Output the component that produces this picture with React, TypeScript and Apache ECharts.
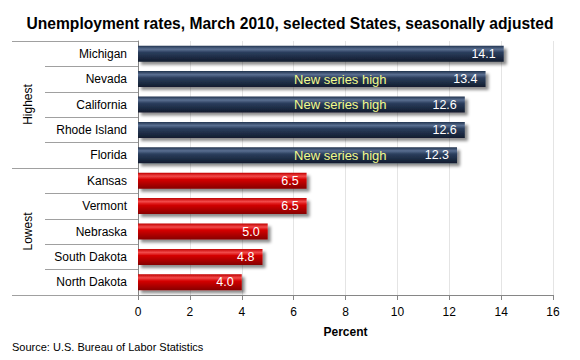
import React, { useEffect, useRef } from "react";
import * as echarts from "echarts";

const titleText = "Unemployment rates, March 2010, selected States, seasonally adjusted";
const sourceText = "Source: U.S. Bureau of Labor Statistics";
const groups = ["Highest", "Lowest"];
const highestStates = ["Michigan", "Nevada", "California", "Rhode Island", "Florida"];
const highestValues = [14.1, 13.4, 12.6, 12.6, 12.3];
const highestNotes = ["", "New series high", "New series high", "", "New series high"];
const lowestStates = ["Kansas", "Vermont", "Nebraska", "South Dakota", "North Dakota"];
const lowestValues = [6.5, 6.5, 5.0, 4.8, 4.0];
const notePosition = 7.8;
const xTicks = [0, 2, 4, 6, 8, 10, 12, 14, 16];

const FONT = "'Liberation Sans', Arial, sans-serif";

const navyGradient = new echarts.graphic.LinearGradient(0, 0, 0, 1, [
  { offset: 0, color: "#22344f" },
  { offset: 0.22, color: "#5a6f91" },
  { offset: 0.42, color: "#2b3e5d" },
  { offset: 1, color: "#111c2e" },
]);
const redGradient = new echarts.graphic.LinearGradient(0, 0, 0, 1, [
  { offset: 0, color: "#c00000" },
  { offset: 0.22, color: "#f24a4a" },
  { offset: 0.42, color: "#d40000" },
  { offset: 1, color: "#860000" },
]);

export default function App() {
  const ref = useRef<HTMLDivElement>(null);
  useEffect(() => {
    if (!ref.current) return;
    const chart = echarts.init(ref.current, null, { renderer: "svg" });
    const states = [...highestStates, ...lowestStates];
    const barData = [
      ...highestValues.map((v) => ({ value: v, itemStyle: { color: navyGradient } })),
      ...lowestValues.map((v) => ({ value: v, itemStyle: { color: redGradient } })),
    ];
    const noteData = highestStates
      .map((s, i) => ({ s, n: highestNotes[i] }))
      .filter((d) => d.n)
      .map((d) => ({ value: [notePosition, d.s], note: d.n }));

    chart.setOption({
      animation: false,
      textStyle: { fontFamily: FONT },
      title: {
        text: titleText,
        left: "center",
        top: 10,
        textStyle: { fontSize: 15.6, fontWeight: "bold", color: "#000", fontFamily: FONT },
      },
      graphic: [
        {
          type: "text",
          left: 12,
          top: 341,
          style: { text: sourceText, fontSize: 11, fill: "#000", fontFamily: FONT },
        },
      ],
      grid: { left: 138, right: 27, top: 41, bottom: 65 },
      xAxis: {
        type: "value",
        min: xTicks[0],
        max: xTicks[xTicks.length - 1],
        interval: 2,
        name: "Percent",
        nameLocation: "middle",
        nameGap: 31,
        nameTextStyle: { fontSize: 12, fontWeight: "bold", color: "#000", fontFamily: FONT },
        axisLine: { show: true, lineStyle: { color: "#868686" } },
        axisTick: { show: true, length: 5, lineStyle: { color: "#868686" } },
        axisLabel: { fontSize: 12, color: "#000", margin: 11, fontFamily: FONT },
        splitLine: { show: true, lineStyle: { color: "#e4e4e4" } },
      },
      yAxis: [
        {
          type: "category",
          data: states,
          inverse: true,
          axisLine: { show: true, lineStyle: { color: "#868686" } },
          axisTick: { show: true, length: 93, lineStyle: { color: "#a0a0a0" } },
          axisLabel: { fontSize: 12, color: "#000", margin: 11, fontFamily: FONT },
        },
        {
          type: "category",
          data: groups,
          inverse: true,
          position: "left",
          axisLine: { show: false },
          axisTick: { show: true, length: 126, lineStyle: { color: "#a0a0a0" } },
          axisLabel: { fontSize: 12, color: "#000", rotate: 90, margin: 104, fontFamily: FONT },
          splitLine: { show: false },
        },
      ],
      series: [
        {
          type: "bar",
          yAxisIndex: 0,
          data: barData,
          barWidth: 16,
          itemStyle: {
            shadowBlur: 3,
            shadowOffsetX: 3,
            shadowOffsetY: 3,
            shadowColor: "rgba(0,0,0,0.45)",
          },
          label: {
            show: true,
            position: "insideRight",
            distance: 8,
            color: "#fff",
            fontSize: 12.5,
            fontFamily: FONT,
            formatter: (p: any) => Number(p.value).toFixed(1),
          },
        },
        {
          type: "scatter",
          yAxisIndex: 0,
          data: noteData,
          symbolSize: 1,
          itemStyle: { color: "rgba(0,0,0,0)", opacity: 1 },
          z: 5,
          label: {
            show: true,
            position: "inside",
            color: "#f2fb8c",
            opacity: 1,
            fontSize: 13,
            fontFamily: FONT,
            formatter: (p: any) => p.data.note,
          },
        },
      ],
    });
    return () => chart.dispose();
  }, []);
  return <div ref={ref} style={{ width: 580, height: 360, margin: -8 }} />;
}
